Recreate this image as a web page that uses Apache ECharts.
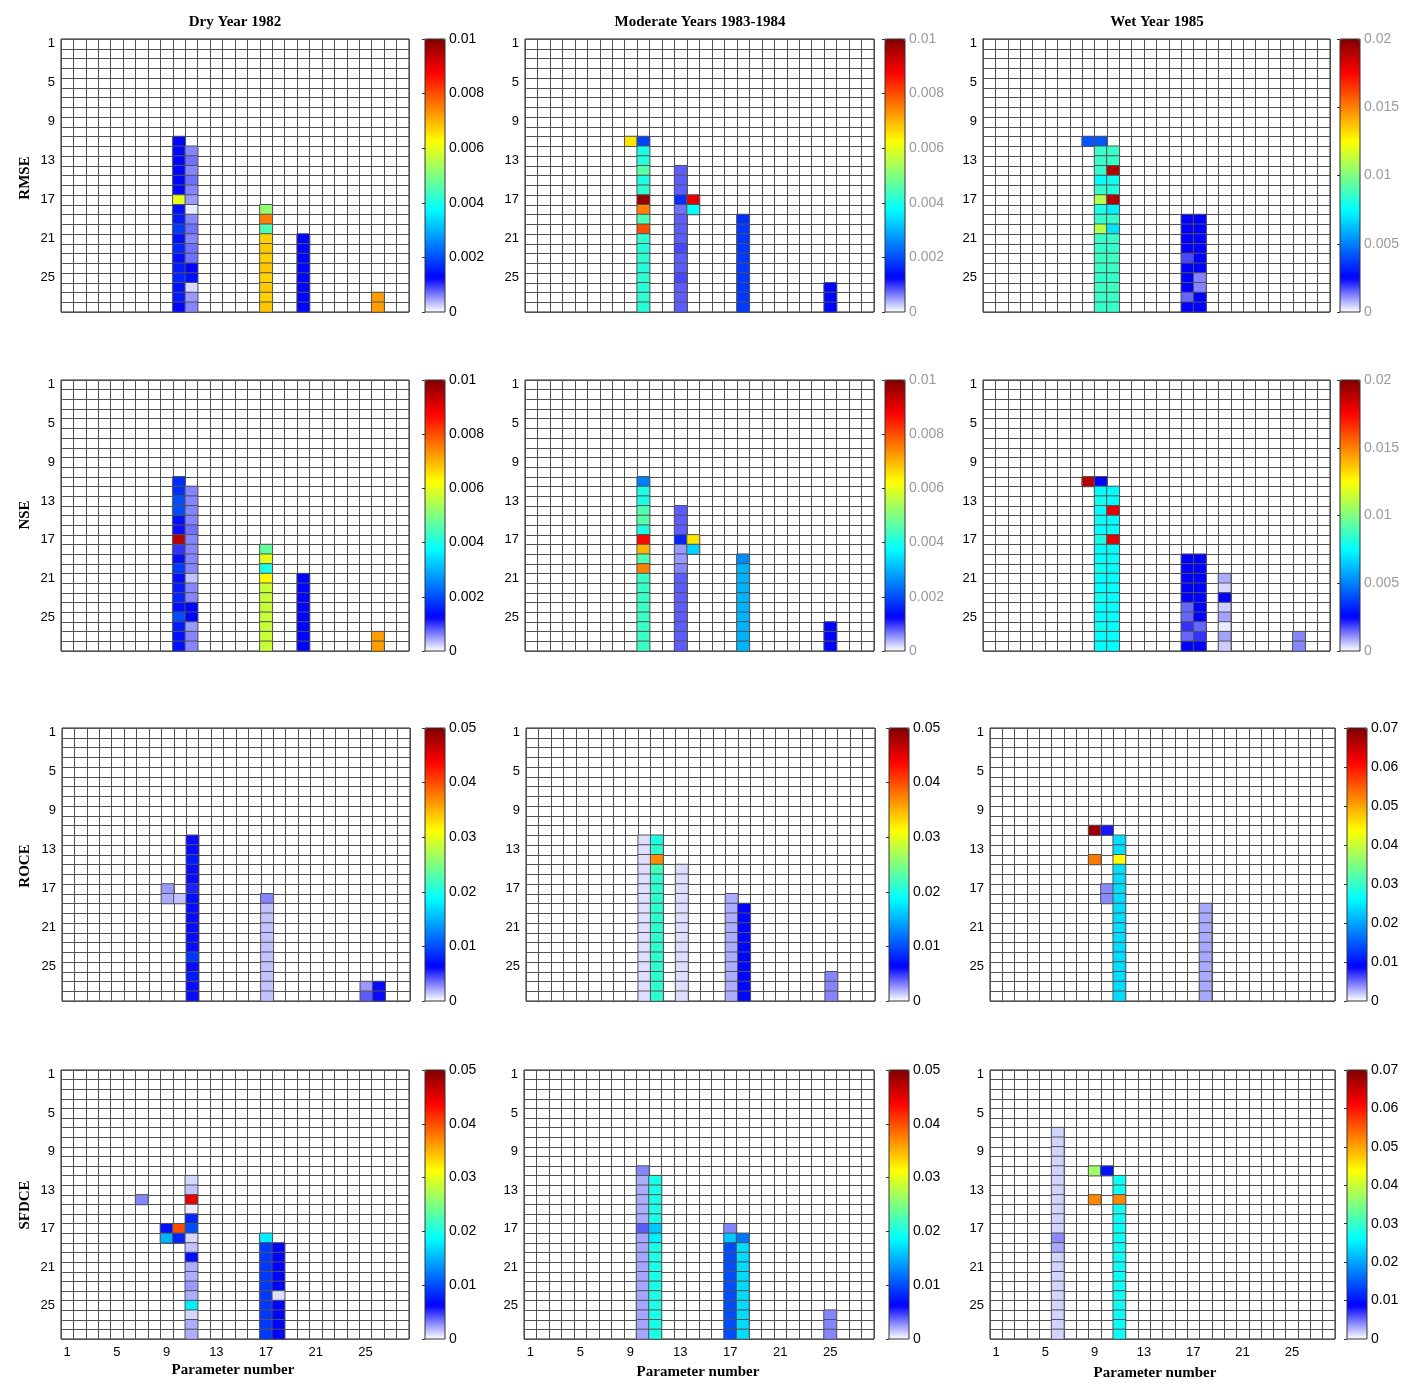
<!DOCTYPE html>
<html>
<head>
<meta charset="utf-8">
<script src="https://cdn.jsdelivr.net/npm/echarts@6/dist/echarts.min.js"></script>
<style>
  html, body { margin: 0; padding: 0; background: #fff; }
  #chart { width: 1405px; height: 1385px; }
</style>
</head>
<body>
<div id="chart"></div>
<script>
// parameter numbers on both axes
const paramLabels = ['1','2','3','4','5','6','7','8','9','10','11','12','13','14',
  '15','16','17','18','19','20','21','22','23','24','25','26','27','28'];

// each strip: [parameter (column), first row, values going down]
const rmseDry = [
  [10, 11, [0.0013,0.0013,0.0013,0.0013,0.0013,0.0013,0.006,0.0014,0.0015,0.0018,0.0014,0.0016,0.0014,0.0015,0.0016,0.0014,0.0015,0.0013]],
  [11, 12, [0.0006,0.0007,0.0006,0.0007,0.0006,0.0005,0.0001,0.0006,0.0007,0.0006,0.0007,0.0007,0.0013,0.0014,0.0002,0.0005,0.0006]],
  [17, 18, [0.0052,0.0075,0.0045,0.0067,0.0068,0.0067,0.0068,0.0067,0.0068,0.0067,0.0068]],
  [20, 21, [0.0013,0.0013,0.0013,0.0013,0.0013,0.0013,0.0013,0.0013]],
  [26, 27, [0.0072,0.0072]]
];
const rmseMod = [
  [9, 11, [0.0065]],
  [10, 11, [0.0019,0.004,0.0041,0.0046,0.004,0.0042,0.0098,0.0075,0.0045,0.008,0.0042,0.0041,0.0042,0.0041,0.0042,0.0041,0.0042,0.0041]],
  [13, 14, [0.0008,0.0008,0.0008,0.0017,0.0007,0.0008,0.0008,0.0008,0.0009,0.0008,0.0008,0.0009,0.0008,0.0008,0.0008]],
  [14, 17, [0.009,0.0038]],
  [18, 19, [0.0017,0.0018,0.0018,0.0018,0.0018,0.0018,0.0018,0.0018,0.0018,0.0018]],
  [25, 26, [0.0013,0.0013,0.0013]]
];
const rmseWet = [
  [9, 11, [0.0042]],
  [10, 11, [0.0042,0.0086,0.0086,0.0085,0.0075,0.0085,0.011,0.008,0.0085,0.011,0.0086,0.0085,0.0087,0.0086,0.0085,0.0087,0.0086,0.0085]],
  [11, 12, [0.0086,0.0086,0.019,0.0078,0.0082,0.019,0.0072,0.0085,0.007,0.0086,0.0085,0.0087,0.0086,0.0085,0.0087,0.0086,0.0085]],
  [17, 19, [0.0025,0.0025,0.0025,0.0025,0.0018,0.0025,0.0025,0.0025,0.0015,0.0025]],
  [18, 19, [0.0025,0.0025,0.0025,0.0025,0.0025,0.0025,0.0012,0.0012,0.0025,0.0025]]
];
const nseDry = [
  [10, 11, [0.0017,0.0017,0.002,0.002,0.0014,0.0012,0.0095,0.001,0.0014,0.0018,0.0014,0.0015,0.0016,0.0014,0.002,0.0015,0.0014,0.0014]],
  [11, 12, [0.0006,0.0006,0.0006,0.0006,0.0007,0.0006,0.0006,0.0006,0.0006,0.0003,0.0006,0.0006,0.0013,0.0013,0.0005,0.0006,0.0006]],
  [17, 18, [0.0047,0.006,0.004,0.0063,0.0057,0.0057,0.0057,0.0057,0.0057,0.0057,0.0057]],
  [20, 21, [0.0013,0.0013,0.0013,0.0013,0.0013,0.0013,0.0013,0.0013]],
  [26, 27, [0.0072,0.0072]]
];
const nseMod = [
  [10, 11, [0.0025,0.004,0.004,0.0045,0.0046,0.004,0.0087,0.007,0.0045,0.0075,0.0043,0.0043,0.0043,0.0043,0.0043,0.0043,0.0043,0.0043]],
  [13, 14, [0.0008,0.0008,0.0008,0.0016,0.0005,0.0005,0.0006,0.0008,0.0008,0.0008,0.0008,0.0008,0.0008,0.0008,0.0008]],
  [14, 17, [0.0065,0.0033]],
  [18, 19, [0.0026,0.003,0.003,0.003,0.003,0.003,0.003,0.003,0.003,0.003]],
  [25, 26, [0.0013,0.0013,0.0013]]
];
const nseWet = [
  [9, 11, [0.019]],
  [10, 11, [0.0025,0.0075,0.0078,0.0075,0.0078,0.0075,0.008,0.0075,0.0075,0.0078,0.0075,0.0075,0.0078,0.0075,0.0075,0.0078,0.0075,0.0075]],
  [11, 12, [0.0075,0.0075,0.018,0.0075,0.0075,0.018,0.0075,0.0075,0.0075,0.0075,0.0075,0.0075,0.0075,0.0075,0.0075,0.0075,0.0075]],
  [17, 19, [0.0025,0.0025,0.0025,0.0025,0.0025,0.0015,0.0015,0.002,0.0015,0.0025]],
  [18, 19, [0.0025,0.0025,0.0025,0.0025,0.0025,0.0025,0.0025,0.0015,0.002,0.0025]],
  [20, 21, [0.0008,0.0004,0.0025,0.0005,0.0009,0.0002,0.0009,0.0005]],
  [26, 27, [0.0012,0.0012]]
];
const roceDry = [
  [9, 17, [0.0025,0.002]],
  [10, 18, [0.0015]],
  [11, 12, [0.006,0.006,0.0075,0.006,0.006,0.0055,0.007,0.006,0.006,0.006,0.006,0.006,0.009,0.006,0.0075,0.006,0.006]],
  [17, 18, [0.003,0.0015,0.0015,0.0015,0.0015,0.0015,0.0015,0.0015,0.0015,0.0015,0.0015]],
  [25, 27, [0.0025,0.004]],
  [26, 27, [0.006,0.006]]
];
const roceMod = [
  [10, 12, [0.0008,0.0008,0.0008,0.0008,0.0008,0.0008,0.0008,0.0008,0.0008,0.0008,0.0008,0.0008,0.0008,0.0008,0.0008,0.0008,0.0008]],
  [11, 12, [0.02,0.021,0.037,0.022,0.021,0.021,0.021,0.021,0.021,0.021,0.021,0.021,0.021,0.021,0.021,0.021,0.021]],
  [13, 15, [0.0008,0.0008,0.0008,0.0008,0.0008,0.0008,0.0008,0.0008,0.0008,0.0008,0.0008,0.0008,0.0008,0.0008]],
  [17, 18, [0.002,0.002,0.002,0.002,0.002,0.002,0.002,0.002,0.002,0.002,0.002]],
  [18, 19, [0.0065,0.0065,0.0065,0.0065,0.0065,0.0065,0.0065,0.0065,0.0065,0.0065]],
  [25, 26, [0.003,0.003,0.003]]
];
const roceWet = [
  [9, 11, [0.068]],
  [9, 14, [0.053]],
  [10, 11, [0.008]],
  [10, 17, [0.004,0.004]],
  [11, 12, [0.024,0.024,0.044,0.024,0.024,0.024,0.024,0.024,0.024,0.024,0.024,0.024,0.024,0.024,0.024,0.024,0.024]],
  [18, 19, [0.003,0.003,0.003,0.003,0.003,0.003,0.003,0.003,0.003,0.003]]
];
const sfdceDry = [
  [7, 14, [0.003]],
  [9, 17, [0.007,0.015]],
  [10, 17, [0.04,0.008]],
  [11, 12, [0.001,0.0015,0.045,0.0005,0.008,0.01,0.001,0.0015,0.007,0.002,0.002,0.0025,0.002,0.018,0.001,0.002,0.002]],
  [17, 18, [0.018,0.009,0.009,0.009,0.009,0.009,0.009,0.009,0.009,0.009,0.009]],
  [18, 19, [0.0065,0.0065,0.0065,0.0065,0.0065,0.0008,0.0065,0.0065,0.0065,0.0065]]
];
const sfdceMod = [
  [10, 11, [0.003,0.002,0.002,0.002,0.002,0.002,0.004,0.0022,0.0022,0.0022,0.0022,0.0022,0.0022,0.0022,0.0022,0.0022,0.0022,0.0022]],
  [11, 12, [0.02,0.02,0.02,0.02,0.02,0.016,0.018,0.02,0.02,0.02,0.02,0.02,0.02,0.02,0.02,0.02,0.02]],
  [17, 17, [0.003,0.016,0.01,0.01,0.01,0.01,0.01,0.01,0.01,0.01,0.01,0.01]],
  [18, 18, [0.012,0.017,0.017,0.017,0.017,0.017,0.017,0.017,0.017,0.017,0.017]],
  [25, 26, [0.003,0.003,0.003]]
];
const sfdceWet = [
  [6, 7, [0.0015,0.0015,0.0015,0.0015,0.0015,0.0015,0.0015,0.0015,0.0015,0.0015,0.0015,0.004,0.003,0.0015,0.0015,0.0015,0.0015,0.0015,0.0015,0.0015,0.0015,0.0015]],
  [9, 11, [0.037]],
  [9, 14, [0.052]],
  [10, 11, [0.01]],
  [11, 12, [0.027,0.027,0.052,0.027,0.027,0.027,0.027,0.027,0.027,0.027,0.027,0.027,0.027,0.027,0.027,0.027,0.027]]
];

const rowNames = ['RMSE', 'NSE', 'ROCE', 'SFDCE'];
const colNames = ['Dry Year 1982', 'Moderate Years 1983-1984', 'Wet Year 1985'];
const scaleMax = [[0.01, 0.01, 0.02], [0.01, 0.01, 0.02], [0.05, 0.05, 0.07], [0.05, 0.05, 0.07]];
const scaleStep = [[0.002, 0.002, 0.005], [0.002, 0.002, 0.005], [0.01, 0.01, 0.01], [0.01, 0.01, 0.01]];
const panelData = [
  [rmseDry, rmseMod, rmseWet],
  [nseDry, nseMod, nseWet],
  [roceDry, roceMod, roceWet],
  [sfdceDry, sfdceMod, sfdceWet]
];

// white + jet colormap
const jet = ['#ffffff', '#0000ff', '#0080ff', '#00ffff', '#80ff80', '#ffff00', '#ff8000', '#ff0000', '#800000'];

// layout of the 4x3 panels
const plotTop = [39, 380, 728, 1070];
const plotH = [273, 271, 273, 269];
const plotLeft = [[61, 525, 983], [61, 525, 983], [62, 526, 990], [61, 524, 990]];
const plotW = [[348, 349, 347], [348, 349, 347], [348, 349, 345], [348, 350, 345]];
const barLeft = [[425, 885, 1340], [425, 885, 1340], [425, 889, 1347], [425, 889, 1347]];
const lineCol = '#525252';

function toCells(strips) {
  const out = [];
  strips.forEach(([c, r0, vals]) => {
    vals.forEach((v, i) => out.push([c - 1, r0 - 1 + i, v]));
  });
  return out;
}

const grid = [], xAxis = [], yAxis = [], series = [], visualMap = [];
for (let r = 0; r < 4; r++) {
  for (let c = 0; c < 3; c++) {
    const k = r * 3 + c;
    const gi = grid.length;
    grid.push({
      left: plotLeft[r][c], top: plotTop[r], width: plotW[r][c], height: plotH[r],
      show: true, borderColor: '#222', borderWidth: 1
    });
    xAxis.push({
      type: 'category', gridIndex: gi, data: paramLabels,
      axisLine: { show: false }, axisTick: { show: false },
      axisLabel: { show: r === 3, interval: 3, fontSize: 13, color: '#000', margin: 7, fontFamily: 'Liberation Sans' },
      splitLine: { show: true, interval: 0, lineStyle: { color: lineCol, width: 1 } }
    });
    yAxis.push({
      type: 'category', gridIndex: gi, data: paramLabels, inverse: true,
      axisLine: { show: false }, axisTick: { show: false },
      axisLabel: { interval: 3, fontSize: 13, color: '#000', margin: 6, fontFamily: 'Liberation Sans' },
      splitLine: { show: true, interval: 0, lineStyle: { color: lineCol, width: 1 } }
    });
    series.push({
      type: 'heatmap', xAxisIndex: gi, yAxisIndex: gi,
      data: toCells(panelData[r][c]),
      itemStyle: { borderColor: lineCol, borderWidth: 1 },
      emphasis: { disabled: true }
    });
    visualMap.push({
      type: 'continuous', seriesIndex: k, min: 0, max: scaleMax[r][c],
      calculable: false, orient: 'vertical', padding: 0,
      left: barLeft[r][c], top: plotTop[r], itemWidth: 20, itemHeight: plotH[r],
      inRange: { color: jet }
    });
    // colour bar axis
    const bi = grid.length;
    grid.push({
      left: barLeft[r][c], top: plotTop[r], width: 20, height: plotH[r],
      show: true, borderColor: '#333', borderWidth: 1, z: 10
    });
    xAxis.push({ type: 'value', gridIndex: bi, show: false, min: 0, max: 1 });
    const faded = r < 2 && c > 0;
    yAxis.push({
      type: 'value', gridIndex: bi, position: 'right', min: 0,
      max: scaleMax[r][c], interval: scaleStep[r][c],
      axisLine: { show: false },
      axisTick: { show: true, inside: true, length: 3, lineStyle: { color: '#333' } },
      splitLine: { show: false },
      axisLabel: { fontSize: 14, margin: 4, color: faded ? '#9a9a9a' : '#000', fontFamily: 'Liberation Sans' }
    });
  }
}

const titleFont = 'bold 15px "Liberation Serif"';
const graphic = [];
const colCenters = [235, 700, 1157];
colNames.forEach((t, i) => {
  graphic.push({ type: 'text', x: colCenters[i], y: 22,
    style: { text: t, font: titleFont, fill: '#000', align: 'center', verticalAlign: 'middle' } });
});
const xTitleY = [1370, 1372, 1373];
colCenters.forEach((x, i) => {
  graphic.push({ type: 'text', x: x - 2, y: xTitleY[i],
    style: { text: 'Parameter number', font: titleFont, fill: '#000', align: 'center', verticalAlign: 'middle' } });
});
const rowCenters = [178, 515, 866, 1205];
rowNames.forEach((t, i) => {
  graphic.push({ type: 'text', x: 25, y: rowCenters[i], rotation: Math.PI / 2,
    style: { text: t, font: titleFont, fill: '#000', align: 'center', verticalAlign: 'middle' } });
});

const myChart = echarts.init(document.getElementById('chart'));
myChart.setOption({
  backgroundColor: '#fff',
  animation: false,
  grid, xAxis, yAxis, series, visualMap, graphic
});
</script>
</body>
</html>
